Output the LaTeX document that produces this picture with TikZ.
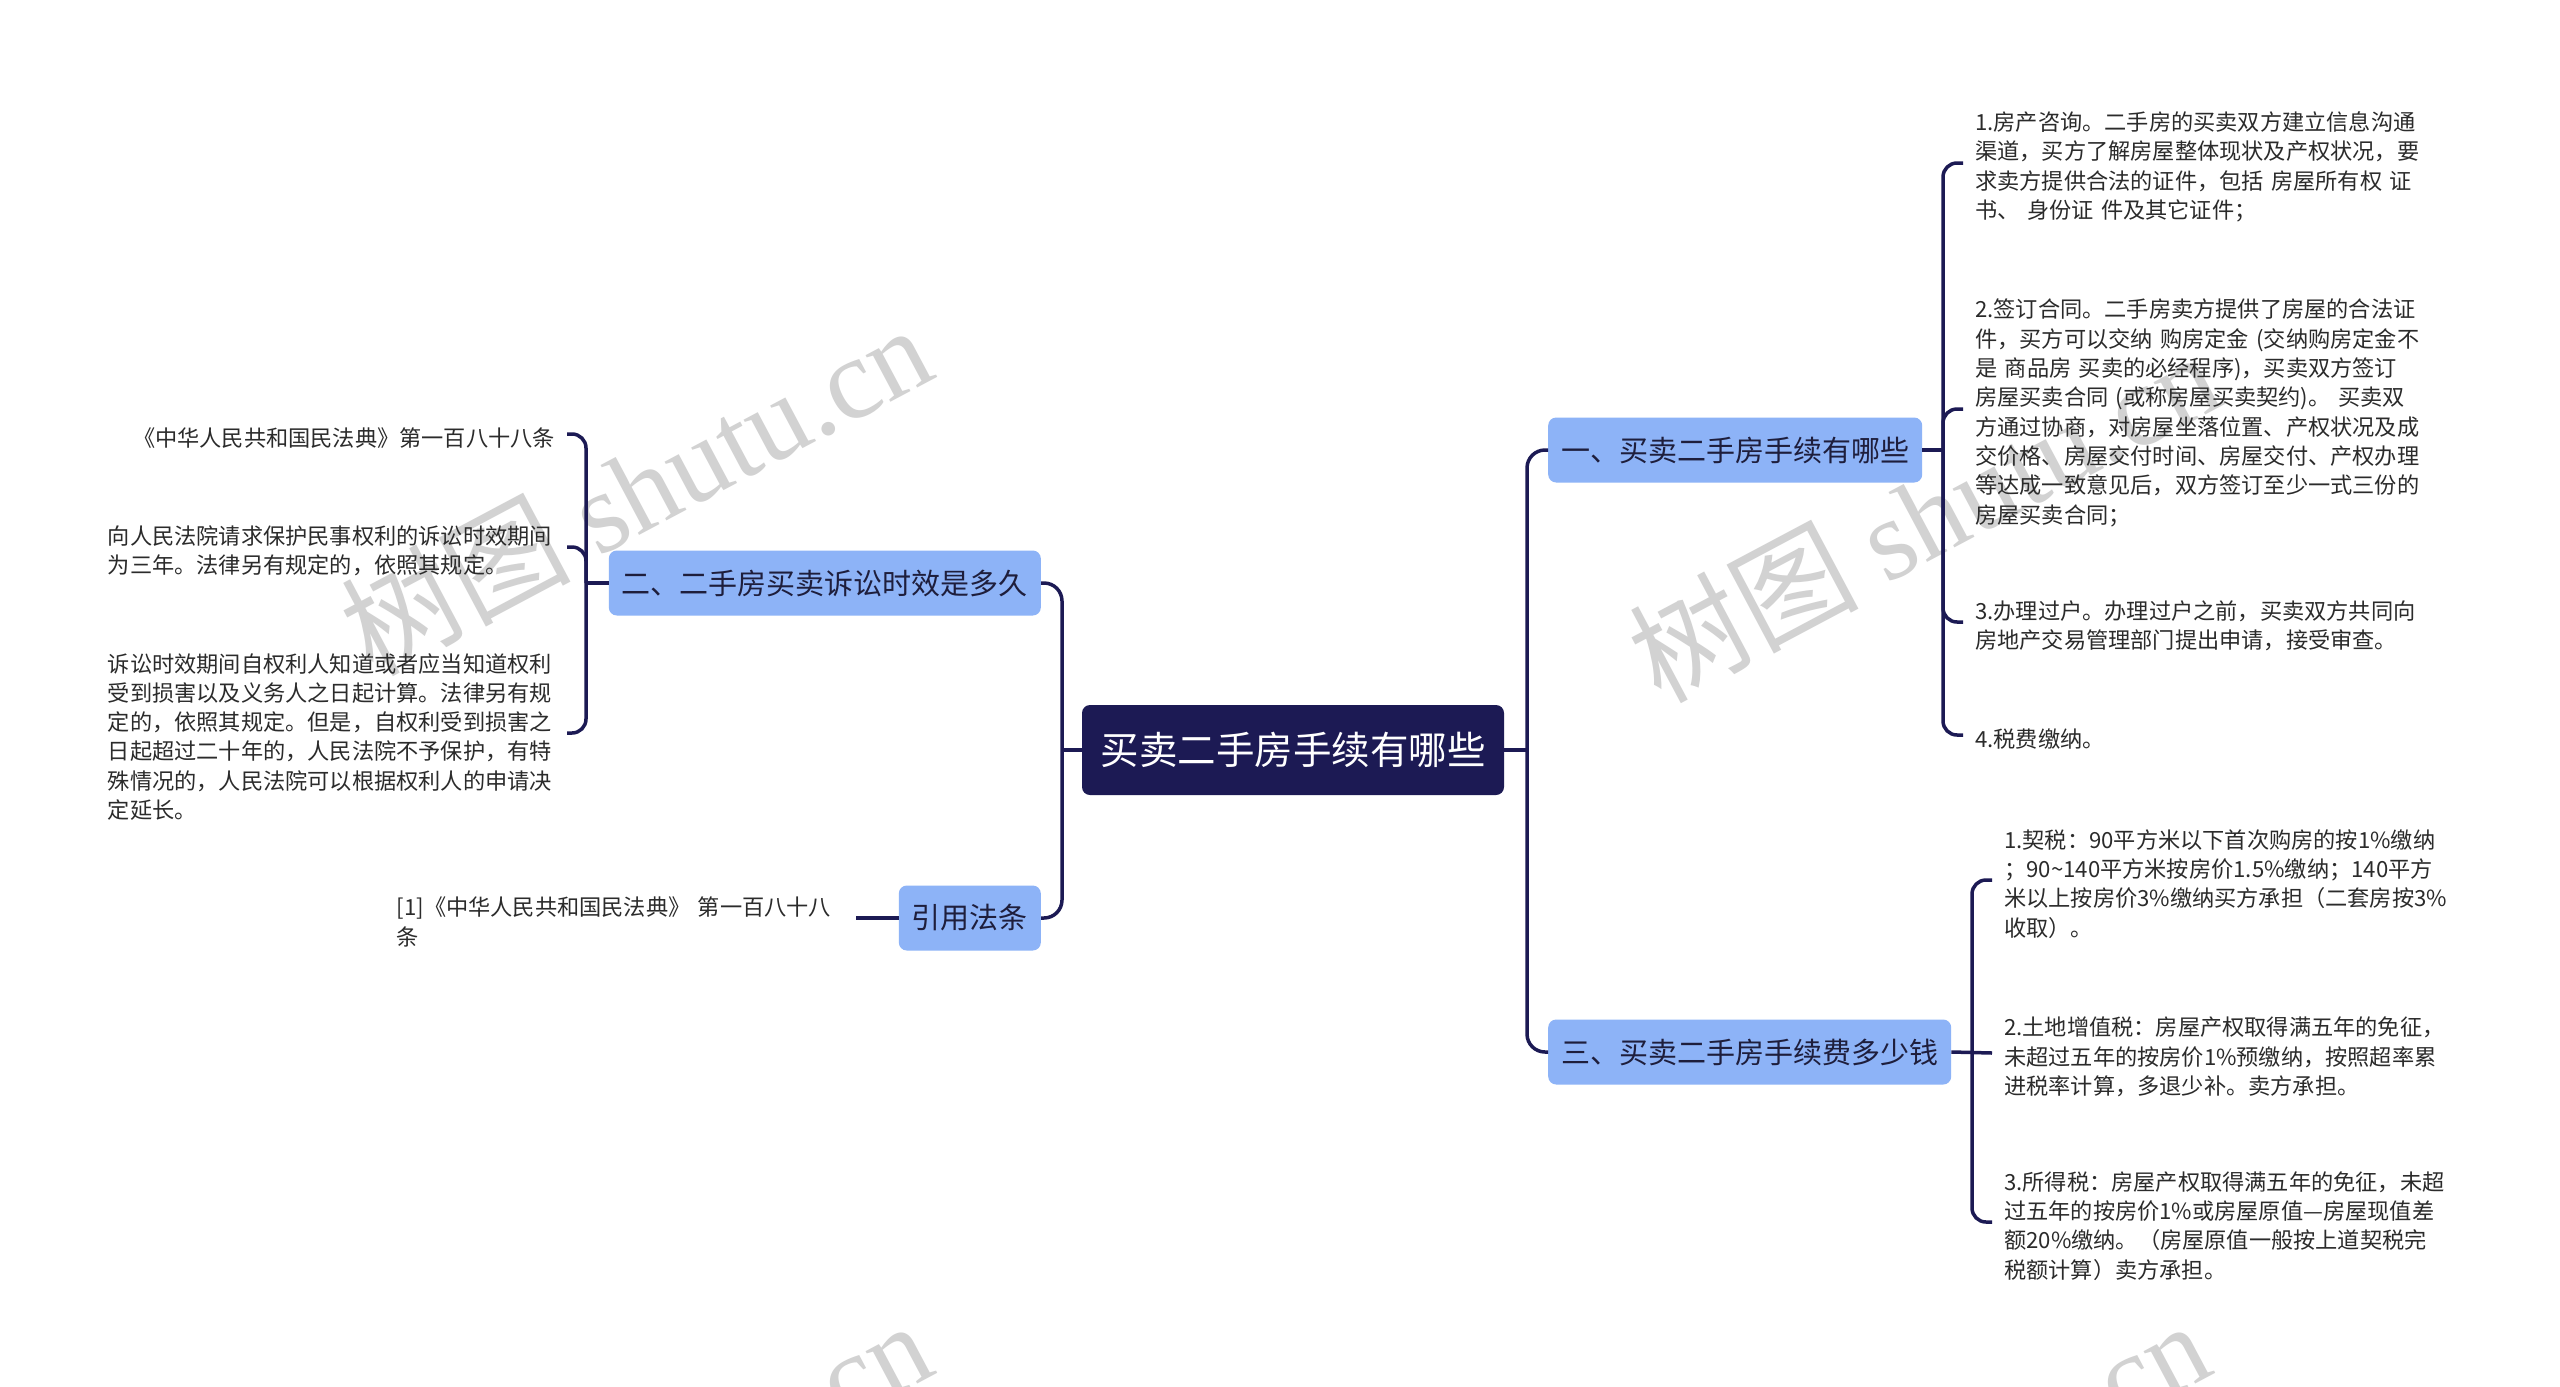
\documentclass[tikz,border=0pt]{standalone}
\usepackage{fontspec}
\setmainfont{Noto Sans CJK SC}
\newfontfamily\wmserif{Liberation Serif}
\definecolor{navy}{HTML}{1C1A54}
\definecolor{lblue}{HTML}{8DB3F7}
\definecolor{btext}{HTML}{1E1E3C}
\definecolor{ltext}{HTML}{2B2B2B}
\definecolor{wmgray}{HTML}{D2D2D2}
\newcommand\lfst{\rule{0pt}{26.5pt}}
\begin{document}
\begin{tikzpicture}[x=1pt,y=-1pt,
  rootbox/.style={fill=navy,text=white,rounded corners=8pt,minimum height=90pt,inner xsep=18.5pt,inner ysep=0pt,font=\fontsize{38.5}{44}\selectfont},
  branchbox/.style={fill=lblue,text=btext,rounded corners=8pt,minimum height=65pt,inner xsep=13pt,inner ysep=0pt,font=\fontsize{29}{34}\selectfont},
  leafbase/.style={text=ltext,inner xsep=12pt,inner ysep=0pt,font=\fontsize{22.2}{29.3}\selectfont},
  leafR/.style={leafbase,anchor=west,align=left,text width=470pt},
  leafL/.style={leafbase,anchor=east,align=left,text width=447pt},
  conn/.style={draw=navy,line width=3.5pt},
  wmark/.style={text=wmgray,anchor=base west,rotate=28,inner sep=0pt,font=\fontsize{115}{120}\selectfont}
]
\useasboundingbox (0,0) rectangle (2560,1387);
\fill[white] (0,0) rectangle (2560,1387);

% watermarks
\begin{scope}
\clip (0,0) rectangle (2560,1387);
\node[wmark] (wm1) at (372,678) {树图 {\wmserif shutu.cn}};
\node[wmark] (wm2) at (1660,705) {树图 {\wmserif shutu.cn}};
\node[wmark] (wm3) at (372,1674) {树图 {\wmserif shutu.cn}};
\node[wmark] (wm4) at (1650,1674) {树图 {\wmserif shutu.cn}};
\end{scope}

% main nodes
\node[rootbox] (root) at (1293,750) {买卖二手房手续有哪些};
\node[branchbox,anchor=west] (b1) at (1548,450) {一、买卖二手房手续有哪些};
\node[branchbox,anchor=west] (b3) at (1548,1052) {三、买卖二手房手续费多少钱};
\node[branchbox,anchor=east] (b2) at (1041,583) {二、二手房买卖诉讼时效是多久};
\node[branchbox,anchor=east] (cite) at (1041,918) {引用法条};

% junction coordinates
\coordinate (jR) at (1527,750);
\coordinate (jL) at (1062,750);
\coordinate (k1) at (1943,450);
\coordinate (k3) at (1972,1052);
\coordinate (k2) at (586,583);

% leaves of branch 1
\node[leafR] (l1) at (1963,163) {\lfst 1.房产咨询。二手房的买卖双方建立信息沟通\\渠道，买方了解房屋整体现状及产权状况，要\\求卖方提供合法的证件，包括 房屋所有权 证\\书、 身份证 件及其它证件；};
\node[leafR] (l2) at (1963,409) {\lfst 2.签订合同。二手房卖方提供了房屋的合法证\\件，买方可以交纳 购房定金 (交纳购房定金不\\是 商品房 买卖的必经程序)，买卖双方签订\\房屋买卖合同 (或称房屋买卖契约)。 买卖双\\方通过协商，对房屋坐落位置、产权状况及成\\交价格、房屋交付时间、房屋交付、产权办理\\等达成一致意见后，双方签订至少一式三份的\\房屋买卖合同；};
\node[leafR] (l3) at (1963,622) {\lfst 3.办理过户。办理过户之前，买卖双方共同向\\房地产交易管理部门提出申请，接受审查。};
\node[leafbase,anchor=west] (l4) at (1963,735) {\lfst 4.税费缴纳。};

% leaves of branch 3
\node[leafR] (m1) at (1992,880) {\lfst 1.契税：90平方米以下首次购房的按1\%缴纳\\；90\textasciitilde140平方米按房价1.5\%缴纳；140平方\\米以上按房价3\%缴纳买方承担（二套房按3\%\\收取）。};
\node[leafR] (m2) at (1992,1053) {\lfst 2.土地增值税：房屋产权取得满五年的免征，\\未超过五年的按房价1\%预缴纳，按照超率累\\进税率计算，多退少补。卖方承担。};
\node[leafR] (m3) at (1992,1222) {\lfst 3.所得税：房屋产权取得满五年的免征，未超\\过五年的按房价1\%或房屋原值—房屋现值差\\额20\%缴纳。（房屋原值一般按上道契税完\\税额计算）卖方承担。};

% leaves of branch 2
\node[leafbase,anchor=east] (n1) at (567,434) {\lfst 《中华人民共和国民法典》第一百八十八条};
\node[leafL] (n2) at (567,547) {\lfst 向人民法院请求保护民事权利的诉讼时效期间\\为三年。法律另有规定的，依照其规定。};
\node[leafL] (n3) at (567,733) {\lfst 诉讼时效期间自权利人知道或者应当知道权利\\受到损害以及义务人之日起计算。法律另有规\\定的，依照其规定。但是，自权利受到损害之\\日起超过二十年的，人民法院不予保护，有特\\殊情况的，人民法院可以根据权利人的申请决\\定延长。};

% cite leaf
\node[leafL] (c1) at (856,918) {\lfst [1]《中华人民共和国民法典》 第一百八十八\\条};

% connectors root
\draw[conn] (root.east) -- (jR);
\draw[conn,rounded corners=18pt] (b1.west) -| (jR) |- (b3.west);
\draw[conn] (root.west) -- (jL);
\draw[conn,rounded corners=18pt] (b2.east) -| (jL) |- (cite.east);

% connectors branch 1
\draw[conn] (b1.east) -- (k1);
\draw[conn,rounded corners=14pt] (l1.west) -| (k1) |- (l4.west);
\draw[conn,rounded corners=14pt] (k1) |- (l2.west);
\draw[conn,rounded corners=14pt] (k1) |- (l3.west);

% connectors branch 3
\draw[conn] (b3.east) -- (m2.west);
\draw[conn,rounded corners=14pt] (m1.west) -| (k3) |- (m3.west);

% connectors branch 2
\draw[conn] (b2.west) -- (k2);
\draw[conn,rounded corners=14pt] (n1.east) -| (k2) |- (n3.east);
\draw[conn,rounded corners=14pt] (k2) |- (n2.east);

% cite connector
\draw[conn] (cite.west) -- (c1.east);
\end{tikzpicture}
\end{document}
